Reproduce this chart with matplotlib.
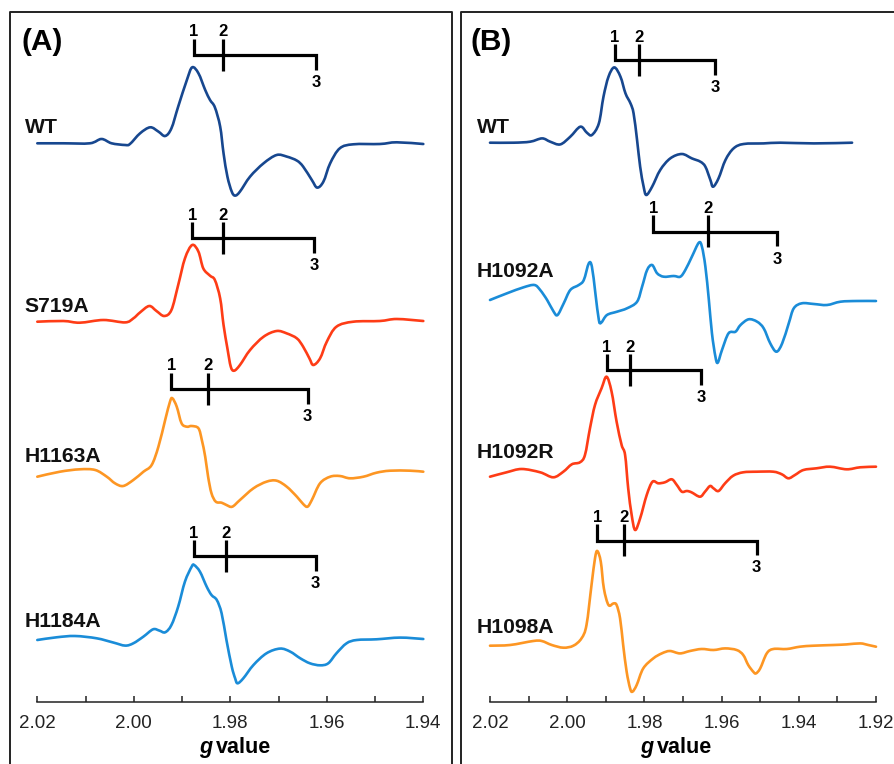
import matplotlib
matplotlib.use("Agg")
import matplotlib.pyplot as plt
from matplotlib.lines import Line2D
from matplotlib.path import Path
from matplotlib.patches import PathPatch
from matplotlib.ticker import MultipleLocator
import numpy as np

plt.rcParams['font.family'] = ['Liberation Sans', 'DejaVu Sans']

# ---------------- data (g value, relative intensity) ----------------
# Panel A
A_WT_g = [2.0200, 2.0146, 2.0091, 2.0067, 2.0046, 2.0018, 2.0008, 1.9987, 1.9966, 1.9949,
          1.9935, 1.9922, 1.9908, 1.9890, 1.9879, 1.9866, 1.9852, 1.9842, 1.9832, 1.9821,
          1.9814, 1.9806, 1.9797, 1.9790, 1.9780, 1.9759, 1.9731, 1.9704, 1.9683, 1.9662,
          1.9649, 1.9631, 1.9620, 1.9607, 1.9593, 1.9573, 1.9545, 1.9490, 1.9455, 1.9400]
A_WT_i = [0, 0, 0, 4.3, 0, -1.7, -0.7, 10, 16, 11.7,
          7.3, 15, 36.7, 63.3, 76, 70, 53.3, 43.3, 36, 16.7,
          -10, -33.3, -48.3, -52.3, -48.3, -33.3, -20, -11.7, -13.3, -17.3,
          -23.3, -36.7, -44.3, -38.3, -20, -5, -1, -0.7, 1, -0.7]

A_S719A_g = [2.0200, 2.0146, 2.0112, 2.0063, 2.0018, 2.0001, 1.9987, 1.9968, 1.9953, 1.9937,
             1.9922, 1.9908, 1.9894, 1.9879, 1.9866, 1.9856, 1.9842, 1.9832, 1.9821, 1.9814,
             1.9806, 1.9799, 1.9792, 1.9780, 1.9759, 1.9731, 1.9704, 1.9683, 1.9662, 1.9649,
             1.9636, 1.9628, 1.9614, 1.9600, 1.9580, 1.9545, 1.9490, 1.9455, 1.9400]
A_S719A_i = [0, 0.7, -1, 1.7, -0.7, 3.3, 9.3, 15.7, 10.7, 5.7,
             11.7, 36.7, 63.3, 76.7, 70, 53.3, 46, 41.7, 23.3, -3.3,
             -26.7, -45, -49, -43.3, -28.3, -15, -9.3, -11.7, -16.7, -25,
             -36.7, -43.3, -36.7, -20, -5, 0, 0.7, 2.7, 0.7]

A_H1163A_g = [2.0200, 2.0153, 2.0112, 2.0080, 2.0056, 2.0039, 2.0022, 2.0001, 1.9980, 1.9963,
              1.9949, 1.9935, 1.9925, 1.9920, 1.9911, 1.9901, 1.9890, 1.9880, 1.9866, 1.9859,
              1.9852, 1.9846, 1.9839, 1.9830, 1.9818, 1.9808, 1.9796, 1.9780, 1.9752, 1.9725,
              1.9704, 1.9683, 1.9662, 1.9649, 1.9640, 1.9631, 1.9614, 1.9593, 1.9573, 1.9552,
              1.9524, 1.9497, 1.9469, 1.9427, 1.9400]
A_H1163A_i = [-1.7, 3.3, 5.7, 5, -1.7, -8.3, -11, -5, 3.3, 10,
              28.3, 55, 73.3, 76.7, 68.3, 51.7, 48.3, 49, 46.7, 35,
              18.3, -1.7, -18.3, -26.7, -27.7, -30, -31.7, -25, -13.3, -6.7,
              -5.7, -11.7, -21.7, -29, -31.7, -25, -8.3, -1.7, -1, -3.3,
              -1.7, 2.3, 4.3, 4.3, 3.3]

A_H1184A_g = [2.0200, 2.0160, 2.0122, 2.0077, 2.0042, 2.0018, 2.0001, 1.9980, 1.9960, 1.9947,
              1.9935, 1.9922, 1.9908, 1.9894, 1.9880, 1.9875, 1.9863, 1.9849, 1.9839, 1.9828,
              1.9818, 1.9808, 1.9797, 1.9790, 1.9785, 1.9773, 1.9752, 1.9725, 1.9697, 1.9676,
              1.9655, 1.9635, 1.9614, 1.9597, 1.9580, 1.9559, 1.9538, 1.9497, 1.9448, 1.9400]
A_H1184A_i = [-0.7, 2, 3.3, 1, -3.3, -6.3, -4, 2.7, 10, 8.7,
              7, 14.3, 32.7, 57.7, 72.7, 74.3, 67.7, 52.7, 44.3, 39.3,
              26, -0.7, -27.3, -39, -44, -39, -25.7, -14, -9.3, -12.3,
              -19, -24, -26, -24, -14, -4, -0.7, 0, 1.7, 0.3]

# Panel B
B_WT_g = [2.0200, 2.0139, 2.0096, 2.0065, 2.0044, 2.0018, 1.9992, 1.9966, 1.9949, 1.9936,
          1.9918, 1.9906, 1.9893, 1.9878, 1.9862, 1.9849, 1.9836, 1.9828, 1.9819, 1.9811,
          1.9802, 1.9795, 1.9780, 1.9759, 1.9733, 1.9703, 1.9677, 1.9655, 1.9642, 1.9629,
          1.9622, 1.9608, 1.9590, 1.9569, 1.9543, 1.9491, 1.9448, 1.9361, 1.9262]
B_WT_i = [0, 0, 1, 4.3, 1, -1.7, 6, 16, 10, 7.7,
          19.3, 46, 66, 75.3, 66, 49.3, 39.3, 29.3, 2.7, -24,
          -44, -52.3, -44, -27.3, -15.7, -11.3, -15.7, -19, -24, -37.3,
          -44, -35.7, -17.3, -5.7, -1.3, -0.7, 0, -0.7, 0]

B_H1092A_g = [2.0200, 2.0156, 2.0113, 2.0085, 2.0070, 2.0052, 2.0035, 2.0025, 2.0009, 1.9992,
              1.9970, 1.9957, 1.9944, 1.9936, 1.9927, 1.9918, 1.9912, 1.9897, 1.9871, 1.9845,
              1.9819, 1.9806, 1.9793, 1.9780, 1.9767, 1.9750, 1.9724, 1.9707, 1.9694, 1.9677,
              1.9659, 1.9651, 1.9642, 1.9633, 1.9625, 1.9616, 1.9610, 1.9599, 1.9582, 1.9564,
              1.9551, 1.9530, 1.9508, 1.9491, 1.9474, 1.9458, 1.9443, 1.9426, 1.9413, 1.9392,
              1.9361, 1.9327, 1.9292, 1.9249, 1.9200]
B_H1092A_i = [0, 6.7, 12.7, 15, 10, 0, -11.7, -15, -3.3, 10,
              15, 20, 36.7, 33.3, 6.7, -20, -22.7, -15, -11.7, -8.3,
              -1.7, 13.3, 30, 35, 26.7, 23.3, 24, 23.3, 30, 43.3,
              57.3, 53.3, 33.3, 0, -33.3, -56.7, -62.7, -50, -33.3, -31.7,
              -25, -19.3, -21.7, -28.3, -43.3, -51.7, -43.3, -23.3, -8.3, -3.3,
              -4, -5, -1.7, -1, -1]

B_H1092R_g = [2.0200, 2.0157, 2.0118, 2.0070, 2.0036, 2.0010, 1.9988, 1.9967, 1.9954, 1.9941,
              1.9928, 1.9911, 1.9898, 1.9885, 1.9872, 1.9859, 1.9850, 1.9842, 1.9833, 1.9824,
              1.9811, 1.9794, 1.9779, 1.9764, 1.9747, 1.9729, 1.9716, 1.9703, 1.9690, 1.9678,
              1.9656, 1.9643, 1.9630, 1.9621, 1.9608, 1.9591, 1.9570, 1.9544, 1.9509, 1.9466,
              1.9444, 1.9427, 1.9410, 1.9388, 1.9354, 1.9319, 1.9276, 1.9241, 1.9200]
B_H1092R_i = [-1.7, 2.7, 6, 2.7, -2.3, 3.3, 10.7, 12.7, 20, 46.7,
              70, 86.7, 98.3, 83.3, 53.3, 30, 20, -13.3, -40, -55,
              -43.3, -20, -6.7, -8.3, -7.3, -4.3, -10, -16.7, -16, -17.3,
              -21.7, -16.7, -11, -13.3, -16, -8.3, -0.7, 2.7, 3.3, 3.3,
              0.7, -3.3, 0, 5, 6.7, 8.3, 5.7, 7.7, 8.3]

B_H1098A_g = [2.0200, 2.0148, 2.0088, 2.0066, 2.0040, 2.0010, 1.9984, 1.9963, 1.9950, 1.9937,
              1.9928, 1.9922, 1.9913, 1.9905, 1.9893, 1.9880, 1.9872, 1.9863, 1.9855, 1.9846,
              1.9837, 1.9831, 1.9820, 1.9803, 1.9777, 1.9755, 1.9734, 1.9708, 1.9682, 1.9652,
              1.9621, 1.9591, 1.9561, 1.9544, 1.9531, 1.9518, 1.9511, 1.9500, 1.9483, 1.9466,
              1.9431, 1.9397, 1.9362, 1.9310, 1.9276, 1.9241, 1.9220, 1.9200]
B_H1098A_i = [0, 0.7, 4.7, 4.7, 0.7, -2, 0, 7.3, 20.7, 60.7,
              87.3, 94.7, 84, 57.3, 40.7, 42.3, 40.7, 27.3, 0.7, -26,
              -42.7, -46, -39.3, -22.7, -12.7, -7.7, -5.3, -7.7, -5.3, -3.3,
              -4.3, -2.7, -4.3, -9.3, -19.3, -26, -27.7, -22.7, -7.7, -3.3,
              -3.3, -1, 0, 0.7, 1.3, 2.3, 0.7, -1]

# stick diagrams: g1, g2, g3
A_sticks = {"WT": [1.9875, 1.9815, 1.9622], "S719A": [1.9879, 1.9815, 1.9626],
            "H1163A": [1.9922, 1.9846, 1.9640], "H1184A": [1.9875, 1.9808, 1.9623]}
B_sticks = {"WT": [1.9876, 1.9814, 1.9617], "H1092A": [1.9777, 1.9635, 1.9457],
            "H1092R": [1.9898, 1.9837, 1.9654], "H1098A": [1.9922, 1.9853, 1.9509]}

A_ticks = [2.02, 2.00, 1.98, 1.96, 1.94]
B_ticks = [2.02, 2.00, 1.98, 1.96, 1.94, 1.92]

# ---------------- styles / layout ----------------
NAVY = "#17478f"
RED = "#fe3c16"
ORANGE = "#fd9623"
BLUE = "#1a8cd8"

W, H = 894, 764
fig = plt.figure(figsize=(W / 100, H / 100), dpi=100)


def fx(x):
    return x / W


def fy(y):
    return 1 - y / H


def make_axes(x0, x1, xlim, ticks):
    ax = fig.add_axes([fx(x0), 0, (x1 - x0) / W, 1])
    ax.set_xlim(*xlim)
    ax.set_ylim(H, 0)
    ax.patch.set_alpha(0)
    for s in ("top", "left", "right"):
        ax.spines[s].set_visible(False)
    ax.spines["bottom"].set_position(("data", 702))
    ax.spines["bottom"].set_linewidth(1.1)
    ax.spines["bottom"].set_color("#222222")
    ax.set_yticks([])
    ax.set_xticks(ticks)
    ax.set_xticklabels([f"{t:.2f}" for t in ticks])
    ax.xaxis.set_minor_locator(MultipleLocator(0.01))
    ax.tick_params(axis="x", which="both", direction="in", length=4.5, width=1.1,
                   color="#222222", labelsize=13.5, pad=9, labelcolor="#222222")
    return ax


axA = make_axes(37.3, 423.3, (2.02, 1.94), A_ticks)
axB = make_axes(490, 876, (2.02, 1.92), B_ticks)

LW = 1.9


def spectrum(ax, g, inten, base, color):
    """Smooth (Catmull-Rom -> cubic Bezier) curve passing through the read points."""
    P = np.column_stack([np.asarray(g, float), base - np.asarray(inten, float)])
    n = len(P)
    verts = [P[0]]
    codes = [Path.MOVETO]
    for i in range(n - 1):
        p0 = P[i - 1] if i > 0 else P[i]
        p1 = P[i]
        p2 = P[i + 1]
        p3 = P[i + 2] if i + 2 < n else P[i + 1]
        c1 = p1 + (p2 - p0) / 6.0
        c2 = p2 - (p3 - p1) / 6.0
        verts += [c1, c2, p2]
        codes += [Path.CURVE4] * 3
    patch = PathPatch(Path(verts, codes), facecolor="none", edgecolor=color, lw=LW,
                      clip_on=False, capstyle="round", joinstyle="round")
    ax.add_patch(patch)


def stick(ax, gs, yh):
    g1, g2, g3 = gs
    kw = dict(color="black", lw=2.3, clip_on=False, solid_capstyle="butt", solid_joinstyle="miter")
    ax.plot([g1, g1, g3, g3], [yh - 16.5, yh, yh, yh + 14.5], **kw)
    ax.plot([g2, g2], [yh - 16.5, yh + 15.5], **kw)
    tk = dict(ha="center", va="baseline", fontsize=12, fontweight="bold", color="black")
    ax.text(g1, yh - 18.5, "1", **tk)
    ax.text(g2, yh - 18.5, "2", **tk)
    ax.text(g3, yh + 32, "3", **tk)


# Panel A spectra
spectrum(axA, A_WT_g, A_WT_i, 143.3, NAVY)
spectrum(axA, A_S719A_g, A_S719A_i, 321.7, RED)
spectrum(axA, A_H1163A_g, A_H1163A_i, 475.0, ORANGE)
spectrum(axA, A_H1184A_g, A_H1184A_i, 639.3, BLUE)
stick(axA, A_sticks["WT"], 55)
stick(axA, A_sticks["S719A"], 238.3)
stick(axA, A_sticks["H1163A"], 389)
stick(axA, A_sticks["H1184A"], 556)

# Panel B spectra
spectrum(axB, B_WT_g, B_WT_i, 142.7, NAVY)
spectrum(axB, B_H1092A_g, B_H1092A_i, 300.0, BLUE)
spectrum(axB, B_H1092R_g, B_H1092R_i, 475.0, RED)
spectrum(axB, B_H1098A_g, B_H1098A_i, 645.7, ORANGE)
stick(axB, B_sticks["WT"], 60)
stick(axB, B_sticks["H1092A"], 231.5)
stick(axB, B_sticks["H1092R"], 370)
stick(axB, B_sticks["H1098A"], 540.5)

# labels
lab = dict(ha="left", va="baseline", fontsize=15.2, fontweight="bold", color="#111111")
for name, y in zip(["WT", "S719A", "H1163A", "H1184A"], [132.7, 311.7, 461.7, 626.7]):
    fig.text(fx(24.5), fy(y), name, **lab)
for name, y in zip(["WT", "H1092A", "H1092R", "H1098A"], [133.3, 276.7, 458.3, 633.3]):
    fig.text(fx(477), fy(y), name, **lab)

fig.text(fx(21.5), fy(50.5), "(A)", ha="left", va="baseline", fontsize=21.5, fontweight="bold")
fig.text(fx(471), fy(50.5), "(B)", ha="left", va="baseline", fontsize=21.5, fontweight="bold")

# x-axis titles
for split in (213.5, 654.5):
    fig.text(fx(split - 1), fy(753), "g", ha="right", va="baseline", fontsize=15.5,
             fontweight="bold", fontstyle="italic")
    fig.text(fx(split + 2.5), fy(753), "value", ha="left", va="baseline", fontsize=15.5,
             fontweight="bold")

# panel frames (bottom and the far right of panel B run off the picture)
fkw = dict(color="#222222", lw=1.4, transform=fig.transFigure, solid_capstyle="projecting")
fig.add_artist(Line2D([fx(10), fx(10), fx(452), fx(452)], [fy(766), fy(11.7), fy(11.7), fy(766)], **fkw))
fig.add_artist(Line2D([fx(460.5), fx(460.5), fx(896)], [fy(766), fy(11.7), fy(11.7)], **fkw))

fig.savefig("out.png", dpi=100, facecolor="white")
